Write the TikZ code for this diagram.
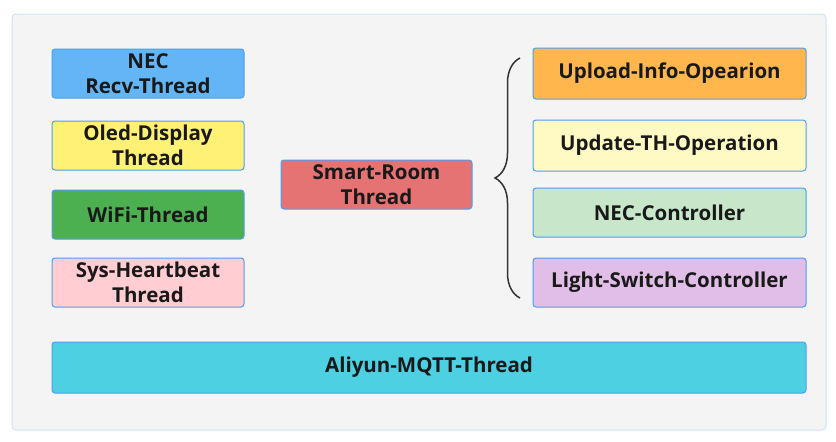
\documentclass[tikz,border=0pt]{standalone}
\usepackage{fontspec}
\setmainfont{Open Sans}
\usetikzlibrary{decorations.pathreplacing}
\definecolor{boxline}{HTML}{4A9EF5}
\definecolor{framefill}{HTML}{F4F4F4}
\definecolor{frameline}{HTML}{CFE4FB}
\definecolor{bracegray}{HTML}{333333}
\definecolor{necblue}{HTML}{64B5F6}
\definecolor{oledyellow}{HTML}{FFF176}
\definecolor{wifigreen}{HTML}{4CAF50}
\definecolor{heartpink}{HTML}{FFCDD2}
\definecolor{roomred}{HTML}{E57373}
\definecolor{uploadorange}{HTML}{FFB74D}
\definecolor{updateyellow}{HTML}{FFF9C4}
\definecolor{ctlgreen}{HTML}{C8E6C9}
\definecolor{lightlav}{HTML}{E1BEE7}
\definecolor{mqttcyan}{HTML}{4DD0E1}
\tikzset{
  thread/.style={draw=boxline, line width=1pt, rounded corners=3pt,
    font=\bfseries\fontsize{20.5}{24.5}\selectfont, text=black!90,
    align=center, inner sep=0pt, minimum height=49pt}
}
\def\leftx{148}
\def\leftw{192pt}
\def\rightx{669.5}
\def\rightw{273pt}

\begin{document}
\begin{tikzpicture}[x=1pt, y=-1pt]
		\useasboundingbox (0,0) rectangle (836,442);
		\draw[frameline, fill=framefill, line width=1pt, rounded corners=4pt] (12,14) rectangle (826,430);

		\node[thread, fill=necblue, minimum width=\leftw] (nec) at (\leftx,73.5) {NEC\\Recv-Thread};
		\node[thread, fill=oledyellow, minimum width=\leftw] (oled) at (\leftx,145.5) {Oled-Display\\Thread};
		\node[thread, fill=wifigreen, minimum width=\leftw] (wifi) at (\leftx,214.5) {WiFi-Thread};
		\node[thread, fill=heartpink, minimum width=\leftw] (heart) at (\leftx,282.5) {Sys-Heartbeat\\Thread};

		\node[thread, fill=roomred, minimum width=191pt] (room) at (376.5,184.5) {Smart-Room\\Thread};

		\node[thread, fill=uploadorange, minimum width=\rightw, minimum height=51pt] (upload) at (\rightx,73.5) {Upload-Info-Opearion};
		\node[thread, fill=updateyellow, minimum width=\rightw, minimum height=51pt] (update) at (\rightx,145.5) {Update-TH-Operation};
		\node[thread, fill=ctlgreen, minimum width=\rightw] (necctl) at (\rightx,212.5) {NEC-Controller};
		\node[thread, fill=lightlav, minimum width=\rightw] (switch) at (\rightx,282.5) {Light-Switch-Controller};

		\node[thread, fill=mqttcyan, minimum width=754pt, minimum height=51pt] (mqtt) at (429,367.5) {Aliyun-MQTT-Thread};

		\coordinate (brbot) at (520,298);
		\coordinate (brtop) at (520,58);
		\draw[bracegray, line width=1.5pt, decorate, decoration={brace, amplitude=25pt}] (brbot) -- (brtop);
	\end{tikzpicture}
\end{document}
